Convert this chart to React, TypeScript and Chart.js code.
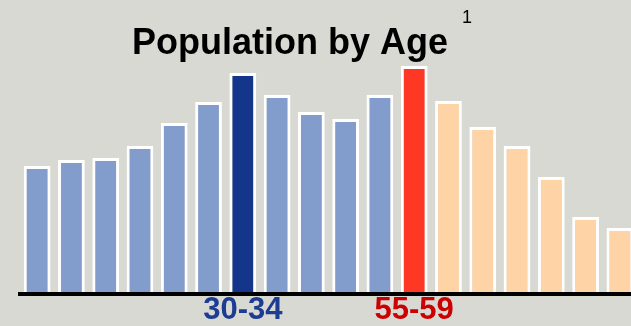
import React, { useEffect, useRef } from "react";
import { Chart, registerables } from "chart.js";

Chart.register(...registerables);

const ageGroups = [
  "0-4", "5-9", "10-14", "15-19", "20-24", "25-29", "30-34", "35-39", "40-44",
  "45-49", "50-54", "55-59", "60-64", "65-69", "70-74", "75-79", "80-84", "85-89",
];
const population = [
  6.4, 6.7, 6.8, 7.4, 8.55, 9.6, 11.05, 9.95, 9.1, 8.75, 9.95, 11.4, 9.65, 8.35,
  7.4, 5.85, 3.85, 3.3,
];
const highlightedLabels = ["30-34", "55-59"];
const yMax = 12.5;

const BG = "#d9d9d4";
const LIGHT_BLUE = "#829dcc";
const DARK_BLUE = "#13358a";
const RED = "#ff3826";
const PEACH = "#fed3a6";
const LABEL_BLUE = "#1c3d91";
const LABEL_RED = "#cc0000";
const FONT = "'Liberation Sans', Arial, Helvetica, sans-serif";

const barColor = (i: number) => {
  const label = ageGroups[i];
  if (label === highlightedLabels[0]) return DARK_BLUE;
  if (label === highlightedLabels[1]) return RED;
  return i < ageGroups.indexOf(highlightedLabels[1]) ? LIGHT_BLUE : PEACH;
};

const titlePlugin = {
  id: "customTitle",
  afterDraw(chart: any) {
    const ctx = chart.ctx;
    ctx.save();
    ctx.fillStyle = "#000";
    ctx.textBaseline = "alphabetic";
    ctx.textAlign = "center";
    ctx.font = `bold 36px ${FONT}`;
    ctx.fillText("Population by Age", 290, 54);
    ctx.font = `18px ${FONT}`;
    ctx.fillText("1", 467, 23);
    ctx.restore();
  },
};

export default function App() {
  const ref = useRef<HTMLCanvasElement>(null);
  useEffect(() => {
    if (!ref.current) return;
    const chart = new Chart(ref.current, {
      type: "bar",
      data: {
        labels: ageGroups,
        datasets: [
          {
            data: population,
            backgroundColor: ageGroups.map((_, i) => barColor(i)),
            borderColor: "#ffffff",
            borderWidth: 3,
            borderSkipped: "start",
            barPercentage: 0.78,
            categoryPercentage: 1,
          },
        ],
      },
      options: {
        animation: false,
        responsive: false,
        devicePixelRatio: 1,
        layout: { padding: { left: 20, right: 0, top: 44, bottom: 0 } },
        plugins: {
          legend: { display: false },
          title: { display: false },
          tooltip: { enabled: false },
        },
        scales: {
          x: {
            grid: { display: false, drawTicks: false },
            border: { display: true, color: "#000", width: 4, z: 1 },
            ticks: {
              autoSkip: false,
              maxRotation: 0,
              minRotation: 0,
              padding: 0,
              font: { family: FONT, size: 31, weight: "bold", lineHeight: 1.1 },
              color: (c: any) =>
                ageGroups[c.index] === highlightedLabels[0] ? LABEL_BLUE : LABEL_RED,
              callback: (_v: any, i: number) =>
                highlightedLabels.includes(ageGroups[i]) ? ageGroups[i] : "",
            },
          },
          y: {
            display: false,
            min: 0,
            max: yMax,
          },
        },
      },
      plugins: [titlePlugin],
    });
    return () => chart.destroy();
  }, []);

  return (
    <div
      style={{
        position: "fixed",
        left: 0,
        top: 0,
        width: 631,
        height: 326,
        overflow: "hidden",
        background: BG,
      }}
    >
      <canvas ref={ref} width={637} height={328} style={{ display: "block" }} />
    </div>
  );
}
